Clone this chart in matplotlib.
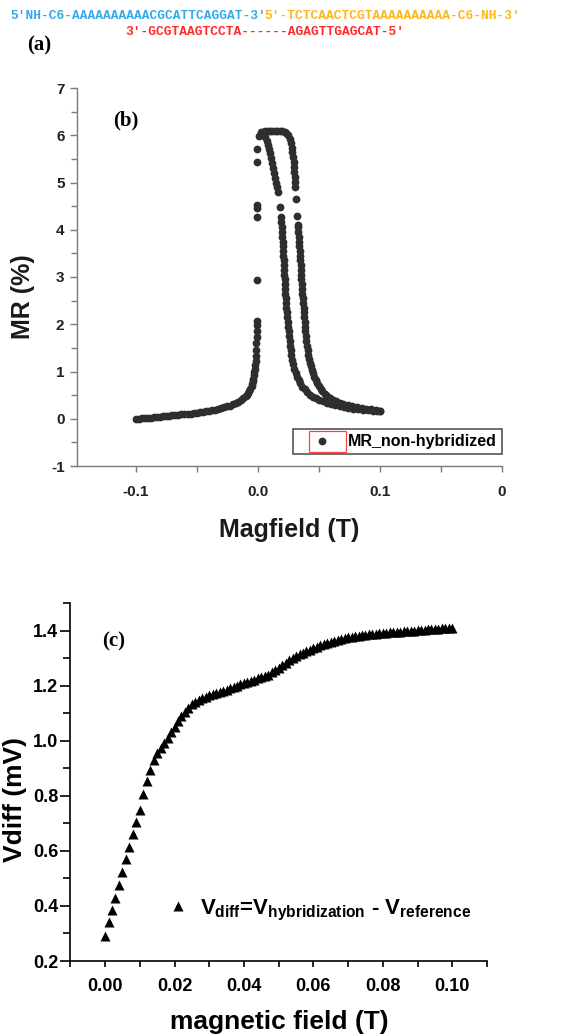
import numpy as np
import matplotlib
matplotlib.use("Agg")
import matplotlib.pyplot as plt
from matplotlib.patches import Rectangle
from matplotlib.lines import Line2D

plt.rcParams['axes.unicode_minus'] = False
plt.rcParams['font.family'] = ['Liberation Sans', 'DejaVu Sans']
plt.rcParams['mathtext.fontset'] = 'custom'
plt.rcParams['mathtext.rm'] = 'Liberation Sans:bold'
plt.rcParams['mathtext.it'] = 'Liberation Sans:bold'
plt.rcParams['mathtext.bf'] = 'Liberation Sans:bold'

# (a) DNA strands
probe_seq = "5'NH-C6-AAAAAAAAAACGCATTCAGGAT-3'"
signal_seq = "5'-TCTCAACTCGTAAAAAAAAAA-C6-NH-3'"
target_seq = "3'-GCGTAAGTCCTA------AGAGTTGAGCAT-5'"

# (b) MR of the non-hybridized sensor, sweep one way (tail, jump, inner branch)
field_up = [-0.100, -0.0975, -0.095, -0.0925, -0.090, -0.0875, -0.085, -0.0825,
            -0.080, -0.0775, -0.075, -0.0725, -0.070, -0.0675, -0.065, -0.0625,
            -0.060, -0.0575, -0.055, -0.0525, -0.050, -0.0475, -0.045, -0.0425,
            -0.040, -0.0375, -0.035, -0.0325, -0.030, -0.0275, -0.025, -0.0225,
            -0.020, -0.018, -0.016, -0.014, -0.012, -0.010, -0.009, -0.008,
            -0.007, -0.006, -0.005, -0.0045, -0.004, -0.0035, -0.003, -0.0027,
            -0.0024, -0.0021, -0.0018, -0.0015,
            -0.0012, -0.0011, -0.0010, -0.0009, -0.0009, -0.0008, -0.0008,
            -0.0006, -0.0006, -0.0005, -0.0004, -0.0003, 0.0010,
            0.0030, 0.0045, 0.0060, 0.0072, 0.0083, 0.0093, 0.0102, 0.0110,
            0.0118, 0.0126, 0.0134, 0.0142, 0.0150, 0.0157, 0.0163, 0.0180,
            0.0190, 0.0194, 0.0197, 0.0199, 0.0201, 0.0203, 0.0205, 0.0207,
            0.0209, 0.0211, 0.0213, 0.0215, 0.0217, 0.0220, 0.0222, 0.0224,
            0.0227, 0.0229, 0.0232, 0.0235, 0.0238, 0.0241, 0.0245, 0.0248,
            0.0252, 0.0256, 0.0260, 0.0265, 0.0270, 0.0276, 0.0283, 0.0291,
            0.0300, 0.0311, 0.0323, 0.0336, 0.0350, 0.0366, 0.0385, 0.0405,
            0.0428, 0.0452, 0.0478, 0.0505, 0.0535, 0.0565, 0.0600, 0.0635,
            0.0670, 0.0705, 0.0740, 0.0780, 0.0820, 0.0860, 0.0900, 0.0940,
            0.0980, 0.1005]
mr_up = [0.00, 0.00, 0.01, 0.01, 0.02, 0.02, 0.03, 0.03,
         0.04, 0.05, 0.05, 0.06, 0.07, 0.07, 0.08, 0.09,
         0.10, 0.10, 0.11, 0.12, 0.13, 0.14, 0.15, 0.16,
         0.17, 0.18, 0.19, 0.21, 0.22, 0.24, 0.26, 0.28,
         0.31, 0.33, 0.36, 0.39, 0.43, 0.48, 0.51, 0.55,
         0.59, 0.64, 0.70, 0.74, 0.79, 0.85, 0.92, 0.98,
         1.05, 1.13, 1.22, 1.32,
         1.45, 1.60, 1.72, 1.85, 1.98, 2.06, 2.93,
         4.28, 4.45, 4.52, 5.44, 5.70, 5.98,
         6.06, 6.03, 5.96, 5.88, 5.80, 5.71, 5.62, 5.52,
         5.42, 5.31, 5.20, 5.10, 5.00, 4.90, 4.80, 4.48,
         4.27, 4.16, 4.05, 3.95, 3.85, 3.75, 3.65, 3.55,
         3.45, 3.35, 3.25, 3.15, 3.05, 2.95, 2.85, 2.75,
         2.65, 2.55, 2.45, 2.35, 2.25, 2.15, 2.05, 1.95,
         1.85, 1.75, 1.65, 1.55, 1.45, 1.35, 1.25, 1.15,
         1.06, 0.97, 0.89, 0.82, 0.75, 0.68, 0.62, 0.56,
         0.51, 0.47, 0.43, 0.40, 0.37, 0.34, 0.31, 0.29,
         0.27, 0.25, 0.23, 0.215, 0.20, 0.19, 0.18, 0.17,
         0.16, 0.155]

# (b) sweep back (outer branch up to the plateau)
field_down = [0.1005, 0.0970, 0.0930, 0.0890, 0.0850, 0.0810, 0.0770, 0.0735,
              0.0700, 0.0670, 0.0640, 0.0615, 0.0590, 0.0568, 0.0548, 0.0530,
              0.0515, 0.0500, 0.0487, 0.0475, 0.0464, 0.0454, 0.0445, 0.0436,
              0.0428, 0.0421, 0.0415, 0.0409, 0.0404, 0.0399, 0.0395, 0.0391,
              0.0387, 0.0384, 0.0381, 0.0378, 0.0375, 0.0372, 0.0369, 0.0366,
              0.0363, 0.0361, 0.0358, 0.0356, 0.0353, 0.0351, 0.0349, 0.0346,
              0.0344, 0.0341, 0.0339, 0.0336, 0.0333, 0.0330, 0.0326, 0.0318,
              0.0310, 0.0306, 0.0304, 0.0302, 0.0299, 0.0296, 0.0293, 0.0289,
              0.0284, 0.0278, 0.0270, 0.0260, 0.0248, 0.0235, 0.0220, 0.0200,
              0.0180, 0.0160, 0.0140, 0.0120, 0.0100, 0.0080, 0.0060, 0.0040,
              0.0025]
mr_down = [0.17, 0.185, 0.20, 0.215, 0.23, 0.25, 0.27, 0.29,
           0.31, 0.34, 0.37, 0.40, 0.44, 0.48, 0.53, 0.58,
           0.63, 0.69, 0.75, 0.82, 0.89, 0.96, 1.03, 1.11,
           1.19, 1.27, 1.35, 1.45, 1.55, 1.65, 1.75, 1.85,
           1.95, 2.05, 2.15, 2.25, 2.35, 2.45, 2.55, 2.65,
           2.75, 2.85, 2.95, 3.05, 3.15, 3.25, 3.35, 3.45,
           3.55, 3.65, 3.75, 3.85, 3.95, 4.05, 4.10, 4.30,
           4.65, 4.90, 5.02, 5.12, 5.23, 5.33, 5.43, 5.53,
           5.64, 5.74, 5.84, 5.93, 6.00, 6.04, 6.07, 6.09,
           6.10, 6.10, 6.10, 6.10, 6.10, 6.09, 6.08, 6.06,
           6.03]

# (c) differential voltage, field sweep in 1 mT steps
field_c = np.arange(101) * 0.001
vdiff = [0.29, 0.34, 0.385, 0.43, 0.475, 0.525, 0.57, 0.615, 0.66, 0.705,
         0.75, 0.805, 0.855, 0.895, 0.93, 0.955, 0.975, 0.99, 1.01, 1.03,
         1.05, 1.07, 1.09, 1.105, 1.12, 1.132, 1.142, 1.148, 1.154, 1.16,
         1.166, 1.171, 1.175, 1.178, 1.181, 1.185, 1.19, 1.195, 1.2, 1.205,
         1.21, 1.214, 1.218, 1.222, 1.226, 1.23, 1.234, 1.24, 1.248, 1.256,
         1.265, 1.274, 1.283, 1.292, 1.3, 1.307, 1.314, 1.32, 1.326, 1.331,
         1.336, 1.341, 1.346, 1.35, 1.354, 1.358, 1.362, 1.366, 1.369, 1.372,
         1.375, 1.377, 1.379, 1.381, 1.383, 1.385, 1.386, 1.388, 1.389, 1.39,
         1.391, 1.392, 1.393, 1.394, 1.395, 1.396, 1.397, 1.398, 1.399, 1.4,
         1.401, 1.402, 1.403, 1.404, 1.405, 1.406, 1.407, 1.408, 1.409, 1.41,
         1.411]

W, H = 573, 1035
fig = plt.figure(figsize=(W / 100, H / 100), dpi=100)


def px(x, y):
    return x / W, 1 - y / H


# ---- (a) ----
mono = dict(family='Liberation Mono', weight='bold', size=9.24, va='center', ha='left')
cw = 7.7
fig.text(*px(10, 16), probe_seq, color='#35aaea', **mono)
fig.text(*px(10 + len(probe_seq) * cw, 16), signal_seq, color='#fdb71e', **mono)
fig.text(*px(10 + 15 * cw, 32), target_seq, color='#ff2a2a', **mono)
fig.text(*px(39, 45), '(a)', family='Liberation Serif', weight='bold', size=15,
         ha='center', va='center')

# ---- (b) ----
ax = fig.add_axes([77 / W, 1 - 466 / H, 425 / W, 378 / H])
dot = dict(ls='none', marker='o', ms=5.6, color='#2e2e2e', mec='none')
ax.plot(field_up, mr_up, label='MR_non-hybridized', **dot)
ax.plot(field_down, mr_down, **dot)
ax.set_xlim(-0.148, 0.2)
ax.set_ylim(-1, 7)
ax.set_xticks([-0.1, 0.0, 0.1, 0.2])
ax.set_xticklabels(['-0.1', '0.0', '0.1', '0'])
ax.set_xticks([-0.05, 0.05, 0.15], minor=True)
ax.set_yticks(range(-1, 8))
ax.set_yticks(np.arange(-0.5, 7, 1.0), minor=True)
for s in ['top', 'right']:
    ax.spines[s].set_visible(False)
for s in ['left', 'bottom']:
    ax.spines[s].set_color('#7a7a7a')
    ax.spines[s].set_linewidth(1.0)
ax.tick_params(which='both', direction='out', color='#7a7a7a', width=1.0)
ax.tick_params(axis='y', which='major', length=5, pad=4, labelsize=11)
ax.tick_params(axis='y', which='minor', length=4)
ax.tick_params(axis='x', which='both', length=4, pad=10, labelsize=11)
for lb in ax.get_xticklabels() + ax.get_yticklabels():
    lb.set_fontweight('bold')
    lb.set_color('#222222')
ax.set_xlabel('Magfield (T)', fontsize=18, fontweight='bold', color='#1a1a1a', va='top')
ax.xaxis.set_label_coords(0.5, -0.138)
ax.set_ylabel('MR (%)', fontsize=18, fontweight='bold', color='#1a1a1a')
ax.yaxis.set_label_coords(-0.099, 0.447)
fig.text(*px(126, 120), '(b)', family='Liberation Serif', weight='bold', size=15,
         ha='center', va='center')
leg = ax.legend(loc='lower right', bbox_to_anchor=(1.0, 0.032), fancybox=False,
                edgecolor='#555555', framealpha=1,
                prop=dict(weight='bold', size=11.5), handlelength=3.0,
                handletextpad=0.15, borderpad=0.3, borderaxespad=0)
leg.get_frame().set_linewidth(1.2)

# ---- (c) ----
axc = fig.add_axes([70 / W, 1 - 961 / H, 417 / W, 358 / H])
axc.plot(field_c, vdiff, ls='none', marker='^', ms=7.3, color='black', mec='none')
axc.set_xlim(-0.0101, 0.110)
axc.set_ylim(0.2, 1.5)
axc.set_xticks(np.arange(0, 0.101, 0.02))
axc.set_xticklabels(['0.00', '0.02', '0.04', '0.06', '0.08', '0.10'])
axc.set_xticks([-0.01, 0.01, 0.03, 0.05, 0.07, 0.09, 0.11], minor=True)
axc.set_yticks([0.2, 0.4, 0.6, 0.8, 1.0, 1.2, 1.4])
axc.set_yticklabels(['0.2', '0.4', '0.6', '0.8', '1.0', '1.2', '1.4'])
axc.set_yticks([0.3, 0.5, 0.7, 0.9, 1.1, 1.3, 1.5], minor=True)
for s in ['top', 'right']:
    axc.spines[s].set_visible(False)
for s in ['left', 'bottom']:
    axc.spines[s].set_linewidth(1.2)
axc.tick_params(which='both', direction='out', width=1.2)
axc.tick_params(axis='y', which='major', length=7, pad=1.5, labelsize=13)
axc.tick_params(axis='y', which='minor', length=5)
axc.tick_params(axis='x', which='both', length=4.5, pad=8, labelsize=13)
for lb in axc.get_xticklabels() + axc.get_yticklabels():
    lb.set_fontweight('bold')
axc.set_xlabel('magnetic field (T)', fontsize=19, fontweight='bold', va='top')
axc.xaxis.set_label_coords(0.502, -0.137)
axc.set_ylabel('Vdiff (mV)', fontsize=19, fontweight='bold')
axc.yaxis.set_label_coords(-0.103, 0.45)
fig.text(*px(114, 641), '(c)', family='Liberation Serif', weight='bold', size=15,
         ha='center', va='center')
tri = Line2D([], [], ls='none', marker='^', ms=7.3, color='black', mec='none')
axc.legend([tri], [r'$V_{diff}$=$V_{hybridization}$ - $V_{reference}$'],
           loc='center left', bbox_to_anchor=(0.233, 0.142), frameon=False,
           prop=dict(weight='bold', size=16), handlelength=1.0,
           handletextpad=0.5, borderpad=0, borderaxespad=0)

# red box around the legend symbol in (b)
fig.canvas.draw()
r = fig.canvas.get_renderer()
lb_box = leg.get_window_extent(r)
tx_box = leg.get_texts()[0].get_window_extent(r)
x0 = lb_box.x0 + 16
x1 = tx_box.x0 - 2
y0 = lb_box.y0 + 1.5
y1 = lb_box.y1 - 1.5
fig.add_artist(Rectangle((x0 / W, y0 / H), (x1 - x0) / W, (y1 - y0) / H,
                         transform=fig.transFigure, fill=False,
                         edgecolor='#ff4040', linewidth=0.9))

fig.savefig('out.png', dpi=100)
